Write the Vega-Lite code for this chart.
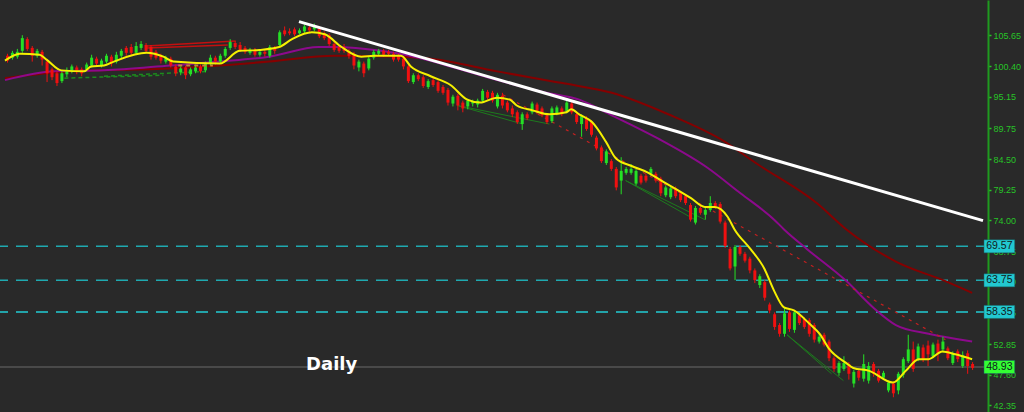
{
"$schema": "https://vega.github.io/schema/vega-lite/v6.json",
"width": 988, "height": 412,
"autosize": {"type": "none"},
"padding": {"left": 0, "top": 0, "right": 36, "bottom": 0},
"background": "#292929",
"config": {"view": {"stroke": null}},
"resolve": {"axis": {"y": "independent"}},
"datasets": {
"candles": [
{"t":0,"o":102.16,"c":101.33,"h":102.50,"l":100.99},
{"t":1,"o":101.83,"c":102.66,"h":103.00,"l":101.50},
{"t":2,"o":102.00,"c":102.83,"h":103.33,"l":101.66},
{"t":3,"o":103.00,"c":105.17,"h":105.67,"l":102.66},
{"t":4,"o":105.00,"c":103.33,"h":105.33,"l":103.00},
{"t":5,"o":103.50,"c":102.16,"h":103.83,"l":101.16},
{"t":6,"o":102.16,"c":103.00,"h":103.33,"l":101.83},
{"t":7,"o":102.83,"c":101.50,"h":103.16,"l":100.49},
{"t":8,"o":101.16,"c":99.16,"h":101.50,"l":97.66},
{"t":9,"o":99.83,"c":98.49,"h":100.16,"l":97.99},
{"t":10,"o":99.16,"c":97.49,"h":99.49,"l":96.99},
{"t":11,"o":97.82,"c":99.16,"h":99.49,"l":97.49},
{"t":12,"o":98.99,"c":99.66,"h":100.16,"l":98.49},
{"t":13,"o":99.49,"c":100.33,"h":100.66,"l":99.16},
{"t":14,"o":100.16,"c":99.49,"h":100.49,"l":98.99},
{"t":15,"o":99.83,"c":99.16,"h":100.16,"l":98.66},
{"t":16,"o":99.83,"c":100.66,"h":100.99,"l":99.49},
{"t":17,"o":100.49,"c":101.83,"h":102.33,"l":100.16},
{"t":18,"o":101.66,"c":100.83,"h":102.00,"l":100.33},
{"t":19,"o":100.49,"c":101.33,"h":101.66,"l":100.16},
{"t":20,"o":101.16,"c":102.16,"h":102.50,"l":100.83},
{"t":21,"o":102.00,"c":100.83,"h":102.33,"l":100.33},
{"t":22,"o":101.16,"c":102.33,"h":102.83,"l":100.83},
{"t":23,"o":102.16,"c":103.00,"h":103.33,"l":101.66},
{"t":24,"o":103.50,"c":102.66,"h":103.83,"l":102.16},
{"t":25,"o":103.66,"c":102.66,"h":104.17,"l":102.16},
{"t":26,"o":102.66,"c":103.83,"h":104.50,"l":102.33},
{"t":27,"o":103.50,"c":104.17,"h":104.67,"l":103.16},
{"t":28,"o":104.00,"c":103.00,"h":104.33,"l":102.66},
{"t":29,"o":103.66,"c":102.00,"h":104.00,"l":101.50},
{"t":30,"o":102.83,"c":101.83,"h":103.16,"l":101.50},
{"t":31,"o":102.16,"c":101.33,"h":102.50,"l":100.83},
{"t":32,"o":101.16,"c":101.83,"h":102.16,"l":100.83},
{"t":33,"o":101.66,"c":100.49,"h":102.00,"l":100.16},
{"t":34,"o":100.33,"c":99.16,"h":100.66,"l":98.66},
{"t":35,"o":99.33,"c":99.99,"h":100.33,"l":98.83},
{"t":36,"o":100.16,"c":98.83,"h":100.49,"l":98.16},
{"t":37,"o":98.99,"c":99.83,"h":100.16,"l":98.66},
{"t":38,"o":99.49,"c":100.16,"h":100.66,"l":99.16},
{"t":39,"o":100.33,"c":99.49,"h":100.66,"l":99.16},
{"t":40,"o":99.66,"c":100.83,"h":101.16,"l":99.33},
{"t":41,"o":100.83,"c":101.83,"h":102.33,"l":100.49},
{"t":42,"o":101.83,"c":101.16,"h":102.16,"l":100.66},
{"t":43,"o":101.16,"c":102.16,"h":102.50,"l":100.83},
{"t":44,"o":102.16,"c":103.33,"h":103.66,"l":101.83},
{"t":45,"o":103.50,"c":104.50,"h":105.00,"l":103.16},
{"t":46,"o":104.33,"c":103.66,"h":104.67,"l":103.33},
{"t":47,"o":104.00,"c":103.16,"h":104.50,"l":102.83},
{"t":48,"o":103.50,"c":102.83,"h":103.83,"l":102.50},
{"t":49,"o":102.66,"c":103.16,"h":103.50,"l":102.33},
{"t":50,"o":103.16,"c":102.33,"h":103.50,"l":102.00},
{"t":51,"o":102.33,"c":102.83,"h":103.16,"l":102.00},
{"t":52,"o":102.83,"c":102.50,"h":103.16,"l":102.00},
{"t":53,"o":102.16,"c":103.66,"h":104.00,"l":101.83},
{"t":54,"o":103.50,"c":103.00,"h":103.83,"l":102.50},
{"t":55,"o":104.00,"c":106.17,"h":106.50,"l":103.66},
{"t":56,"o":106.50,"c":105.83,"h":107.17,"l":105.50},
{"t":57,"o":106.33,"c":106.00,"h":106.84,"l":105.67},
{"t":58,"o":106.67,"c":105.83,"h":107.00,"l":105.50},
{"t":59,"o":106.00,"c":106.50,"h":106.84,"l":105.83},
{"t":60,"o":106.33,"c":107.17,"h":107.50,"l":106.00},
{"t":61,"o":107.00,"c":106.50,"h":107.34,"l":106.17},
{"t":62,"o":106.67,"c":107.17,"h":107.67,"l":106.33},
{"t":63,"o":106.84,"c":105.50,"h":107.17,"l":105.17},
{"t":64,"o":106.00,"c":105.17,"h":106.33,"l":104.83},
{"t":65,"o":105.67,"c":104.17,"h":106.00,"l":103.83},
{"t":66,"o":104.17,"c":103.16,"h":104.50,"l":102.83},
{"t":67,"o":103.66,"c":103.00,"h":104.00,"l":102.66},
{"t":68,"o":103.66,"c":103.00,"h":104.17,"l":102.66},
{"t":69,"o":103.00,"c":102.16,"h":103.33,"l":101.66},
{"t":70,"o":102.50,"c":100.49,"h":102.83,"l":99.83},
{"t":71,"o":100.16,"c":101.16,"h":101.50,"l":99.49},
{"t":72,"o":100.83,"c":99.16,"h":101.16,"l":98.49},
{"t":73,"o":99.99,"c":101.66,"h":102.00,"l":99.66},
{"t":74,"o":101.83,"c":102.83,"h":103.16,"l":101.50},
{"t":75,"o":102.50,"c":103.00,"h":103.33,"l":102.16},
{"t":76,"o":103.00,"c":102.33,"h":103.33,"l":102.00},
{"t":77,"o":102.83,"c":102.50,"h":103.16,"l":102.16},
{"t":78,"o":102.50,"c":101.50,"h":102.83,"l":101.16},
{"t":79,"o":102.16,"c":101.50,"h":102.50,"l":101.16},
{"t":80,"o":101.66,"c":100.33,"h":102.00,"l":99.83},
{"t":81,"o":100.33,"c":97.82,"h":100.66,"l":97.49},
{"t":82,"o":97.66,"c":98.83,"h":99.16,"l":97.32},
{"t":83,"o":98.83,"c":98.16,"h":99.16,"l":97.82},
{"t":84,"o":98.49,"c":96.99,"h":98.83,"l":96.66},
{"t":85,"o":96.82,"c":97.82,"h":98.16,"l":96.49},
{"t":86,"o":97.99,"c":97.16,"h":98.33,"l":96.82},
{"t":87,"o":97.66,"c":96.16,"h":97.99,"l":95.82},
{"t":88,"o":96.82,"c":95.82,"h":97.16,"l":95.49},
{"t":89,"o":96.32,"c":94.15,"h":96.66,"l":93.65},
{"t":90,"o":93.99,"c":95.16,"h":95.49,"l":93.49},
{"t":91,"o":95.32,"c":93.65,"h":95.66,"l":92.82},
{"t":92,"o":94.15,"c":93.15,"h":94.49,"l":92.49},
{"t":93,"o":93.49,"c":94.49,"h":94.82,"l":92.99},
{"t":94,"o":93.99,"c":94.32,"h":94.65,"l":93.49},
{"t":95,"o":93.82,"c":94.49,"h":94.82,"l":93.32},
{"t":96,"o":94.49,"c":96.16,"h":96.49,"l":94.15},
{"t":97,"o":95.99,"c":94.99,"h":96.32,"l":94.65},
{"t":98,"o":95.82,"c":94.49,"h":96.16,"l":94.15},
{"t":99,"o":93.49,"c":95.49,"h":95.82,"l":93.15},
{"t":100,"o":95.32,"c":93.65,"h":95.82,"l":93.15},
{"t":101,"o":94.15,"c":92.82,"h":94.49,"l":92.49},
{"t":102,"o":93.15,"c":92.15,"h":93.65,"l":91.65},
{"t":103,"o":92.49,"c":90.82,"h":92.82,"l":90.48},
{"t":104,"o":90.48,"c":92.15,"h":92.49,"l":89.48},
{"t":105,"o":92.15,"c":91.48,"h":92.49,"l":91.15},
{"t":106,"o":92.49,"c":93.99,"h":94.32,"l":92.15},
{"t":107,"o":93.82,"c":92.49,"h":94.15,"l":92.15},
{"t":108,"o":93.15,"c":91.98,"h":93.49,"l":91.65},
{"t":109,"o":91.98,"c":90.82,"h":92.32,"l":90.48},
{"t":110,"o":90.98,"c":93.15,"h":93.49,"l":90.65},
{"t":111,"o":92.32,"c":93.32,"h":93.65,"l":91.98},
{"t":112,"o":93.15,"c":92.15,"h":93.49,"l":91.82},
{"t":113,"o":92.65,"c":94.15,"h":94.49,"l":92.32},
{"t":114,"o":93.99,"c":92.49,"h":94.32,"l":92.15},
{"t":115,"o":92.15,"c":90.82,"h":92.49,"l":90.48},
{"t":116,"o":90.48,"c":91.82,"h":92.15,"l":88.31},
{"t":117,"o":91.48,"c":89.65,"h":91.82,"l":89.31},
{"t":118,"o":90.82,"c":88.65,"h":91.15,"l":88.31},
{"t":119,"o":88.15,"c":86.31,"h":88.48,"l":85.98},
{"t":120,"o":86.48,"c":84.14,"h":86.81,"l":83.81},
{"t":121,"o":83.81,"c":85.81,"h":86.14,"l":83.48},
{"t":122,"o":84.14,"c":82.81,"h":84.48,"l":82.47},
{"t":123,"o":82.81,"c":79.64,"h":83.14,"l":79.14},
{"t":124,"o":80.81,"c":82.47,"h":84.81,"l":78.47},
{"t":125,"o":82.14,"c":82.81,"h":83.14,"l":81.81},
{"t":126,"o":82.14,"c":82.81,"h":83.64,"l":81.81},
{"t":127,"o":80.30,"c":82.47,"h":82.81,"l":79.97},
{"t":128,"o":81.64,"c":80.47,"h":81.97,"l":80.14},
{"t":129,"o":81.64,"c":80.81,"h":81.97,"l":80.47},
{"t":130,"o":81.97,"c":82.81,"h":83.14,"l":81.64},
{"t":131,"o":81.97,"c":80.81,"h":82.31,"l":80.47},
{"t":132,"o":81.14,"c":78.64,"h":81.47,"l":78.14},
{"t":133,"o":78.30,"c":79.64,"h":79.97,"l":77.97},
{"t":134,"o":77.97,"c":79.47,"h":79.80,"l":77.63},
{"t":135,"o":79.47,"c":78.14,"h":79.80,"l":77.80},
{"t":136,"o":78.64,"c":77.47,"h":78.97,"l":77.13},
{"t":137,"o":78.14,"c":76.97,"h":78.47,"l":76.63},
{"t":138,"o":76.63,"c":74.13,"h":76.97,"l":73.80},
{"t":139,"o":73.63,"c":76.13,"h":76.47,"l":73.30},
{"t":140,"o":76.13,"c":75.30,"h":76.47,"l":74.97},
{"t":141,"o":74.97,"c":75.80,"h":76.13,"l":74.13},
{"t":142,"o":75.80,"c":76.97,"h":78.14,"l":75.47},
{"t":143,"o":76.97,"c":76.30,"h":77.30,"l":75.97},
{"t":144,"o":76.80,"c":73.80,"h":77.13,"l":73.46},
{"t":145,"o":73.63,"c":69.63,"h":73.96,"l":69.29},
{"t":146,"o":69.12,"c":65.79,"h":69.46,"l":65.45},
{"t":147,"o":66.12,"c":69.46,"h":69.79,"l":63.79},
{"t":148,"o":69.46,"c":68.29,"h":69.79,"l":67.96},
{"t":149,"o":68.29,"c":67.12,"h":68.62,"l":66.79},
{"t":150,"o":67.46,"c":65.45,"h":67.79,"l":64.95},
{"t":151,"o":65.45,"c":63.79,"h":65.79,"l":63.28},
{"t":152,"o":62.95,"c":64.45,"h":64.79,"l":62.45},
{"t":153,"o":63.45,"c":60.78,"h":63.79,"l":60.28},
{"t":154,"o":59.62,"c":58.61,"h":59.95,"l":58.11},
{"t":155,"o":57.95,"c":55.78,"h":58.28,"l":55.28},
{"t":156,"o":56.11,"c":54.61,"h":56.44,"l":54.11},
{"t":157,"o":54.61,"c":58.11,"h":59.11,"l":54.11},
{"t":158,"o":58.28,"c":55.44,"h":58.61,"l":54.94},
{"t":159,"o":55.28,"c":58.28,"h":58.61,"l":54.78},
{"t":160,"o":57.78,"c":56.44,"h":58.11,"l":56.11},
{"t":161,"o":57.11,"c":55.78,"h":57.44,"l":55.44},
{"t":162,"o":56.94,"c":54.61,"h":57.28,"l":54.11},
{"t":163,"o":56.11,"c":53.61,"h":56.44,"l":53.11},
{"t":164,"o":53.28,"c":54.11,"h":54.61,"l":52.94},
{"t":165,"o":54.44,"c":52.77,"h":54.78,"l":52.44},
{"t":166,"o":53.28,"c":50.43,"h":53.61,"l":49.93},
{"t":167,"o":50.43,"c":48.60,"h":50.77,"l":48.10},
{"t":168,"o":47.93,"c":49.60,"h":49.93,"l":47.43},
{"t":169,"o":48.60,"c":49.60,"h":50.77,"l":48.27},
{"t":170,"o":49.44,"c":47.77,"h":49.77,"l":46.77},
{"t":171,"o":46.10,"c":48.10,"h":48.43,"l":45.43},
{"t":172,"o":48.27,"c":47.10,"h":48.60,"l":46.60},
{"t":173,"o":46.93,"c":49.44,"h":51.10,"l":46.43},
{"t":174,"o":46.60,"c":49.10,"h":49.77,"l":46.10},
{"t":175,"o":49.44,"c":47.77,"h":49.77,"l":47.27},
{"t":176,"o":48.27,"c":46.60,"h":48.60,"l":46.27},
{"t":177,"o":47.10,"c":47.93,"h":48.27,"l":46.77},
{"t":178,"o":44.93,"c":46.27,"h":46.60,"l":44.60},
{"t":179,"o":46.10,"c":44.43,"h":46.43,"l":43.76},
{"t":180,"o":44.93,"c":47.77,"h":48.10,"l":44.26},
{"t":181,"o":47.60,"c":50.27,"h":50.60,"l":47.10},
{"t":182,"o":49.93,"c":51.94,"h":54.44,"l":49.60},
{"t":183,"o":51.94,"c":48.60,"h":53.28,"l":48.10},
{"t":184,"o":50.27,"c":52.44,"h":52.94,"l":49.93},
{"t":185,"o":52.27,"c":50.27,"h":52.77,"l":49.77},
{"t":186,"o":52.61,"c":51.10,"h":53.44,"l":49.10},
{"t":187,"o":50.77,"c":52.77,"h":53.11,"l":50.43},
{"t":188,"o":52.94,"c":51.27,"h":53.61,"l":49.93},
{"t":189,"o":51.94,"c":53.28,"h":54.11,"l":51.44},
{"t":190,"o":52.11,"c":50.43,"h":52.44,"l":50.10},
{"t":191,"o":49.60,"c":51.27,"h":51.60,"l":49.27},
{"t":192,"o":51.60,"c":50.27,"h":51.94,"l":49.77},
{"t":193,"o":49.10,"c":50.94,"h":51.60,"l":48.77},
{"t":194,"o":51.27,"c":49.10,"h":51.77,"l":47.77},
{"t":195,"o":49.44,"c":48.77,"h":49.77,"l":48.43}
],
"ma": [
{"s":"fast","t":-0.5,"p":101.33},{"s":"fast","t":2.5,"p":102.50},{"s":"fast","t":6.5,"p":102.33},{"s":"fast","t":7.9,"p":101.50},{"s":"fast","t":10.9,"p":99.66},{"s":"fast","t":15.5,"p":99.49},{"s":"fast","t":16.9,"p":100.33},{"s":"fast","t":19.5,"p":100.49},{"s":"fast","t":21.5,"p":101.16},{"s":"fast","t":28.1,"p":102.66},{"s":"fast","t":31.5,"p":102.00},{"s":"fast","t":33.5,"p":101.16},{"s":"fast","t":42.9,"p":100.83},{"s":"fast","t":46.9,"p":103.00},{"s":"fast","t":50.9,"p":103.16},{"s":"fast","t":54.9,"p":103.66},{"s":"fast","t":57.5,"p":105.00},{"s":"fast","t":61.5,"p":106.17},{"s":"fast","t":64.1,"p":105.83},{"s":"fast","t":67.5,"p":103.66},{"s":"fast","t":71.5,"p":102.00},{"s":"fast","t":74.1,"p":102.16},{"s":"fast","t":79.5,"p":102.16},{"s":"fast","t":81.5,"p":100.33},{"s":"fast","t":85.5,"p":98.66},{"s":"fast","t":89.5,"p":97.16},{"s":"fast","t":92.9,"p":94.65},{"s":"fast","t":95.5,"p":94.15},{"s":"fast","t":98.9,"p":94.99},{"s":"fast","t":101.5,"p":94.65},{"s":"fast","t":102.9,"p":93.65},{"s":"fast","t":106.1,"p":92.82},{"s":"fast","t":109.5,"p":92.15},{"s":"fast","t":112.9,"p":92.49},{"s":"fast","t":113.9,"p":92.99},{"s":"fast","t":115.5,"p":92.15},{"s":"fast","t":118.1,"p":90.82},{"s":"fast","t":120.9,"p":87.48},{"s":"fast","t":122.9,"p":84.64},{"s":"fast","t":126.1,"p":83.31},{"s":"fast","t":129.5,"p":82.14},{"s":"fast","t":132.1,"p":80.81},{"s":"fast","t":135.5,"p":79.14},{"s":"fast","t":138.1,"p":77.80},{"s":"fast","t":140.9,"p":76.30},{"s":"fast","t":142.9,"p":76.30},{"s":"fast","t":145.5,"p":74.63},{"s":"fast","t":146.9,"p":72.46},{"s":"fast","t":150.1,"p":69.12},{"s":"fast","t":152.9,"p":65.79},{"s":"fast","t":154.9,"p":61.95},{"s":"fast","t":156.9,"p":59.11},{"s":"fast","t":158.9,"p":58.61},{"s":"fast","t":162.1,"p":56.28},{"s":"fast","t":164.1,"p":54.61},{"s":"fast","t":166.1,"p":51.94},{"s":"fast","t":169.5,"p":49.60},{"s":"fast","t":170.9,"p":48.77},{"s":"fast","t":174.1,"p":48.27},{"s":"fast","t":178.9,"p":46.27},{"s":"fast","t":181.5,"p":48.27},{"s":"fast","t":184.1,"p":50.27},{"s":"fast","t":186.1,"p":50.27},{"s":"fast","t":188.9,"p":51.60},{"s":"fast","t":191.5,"p":51.10},{"s":"fast","t":194.9,"p":50.27},
{"s":"mid","t":-0.5,"p":97.99},{"s":"mid","t":9.5,"p":99.49},{"s":"mid","t":19.5,"p":99.66},{"s":"mid","t":32.9,"p":100.49},{"s":"mid","t":42.9,"p":101.16},{"s":"mid","t":52.9,"p":102.00},{"s":"mid","t":62.9,"p":103.66},{"s":"mid","t":66.1,"p":103.66},{"s":"mid","t":75.5,"p":103.00},{"s":"mid","t":82.1,"p":102.00},{"s":"mid","t":95.5,"p":98.83},{"s":"mid","t":108.9,"p":95.82},{"s":"mid","t":115.5,"p":94.65},{"s":"mid","t":122.1,"p":91.98},{"s":"mid","t":124.9,"p":90.82},{"s":"mid","t":131.5,"p":87.98},{"s":"mid","t":141.5,"p":82.97},{"s":"mid","t":148.1,"p":78.64},{"s":"mid","t":154.9,"p":74.13},{"s":"mid","t":156.9,"p":72.46},{"s":"mid","t":161.5,"p":69.12},{"s":"mid","t":169.5,"p":63.62},{"s":"mid","t":174.9,"p":59.11},{"s":"mid","t":179.5,"p":56.11},{"s":"mid","t":186.1,"p":54.61},{"s":"mid","t":194.9,"p":53.28},
{"s":"slow","t":-0.5,"p":98.33},{"s":"slow","t":12.9,"p":99.49},{"s":"slow","t":32.9,"p":99.99},{"s":"slow","t":52.9,"p":101.16},{"s":"slow","t":66.1,"p":102.16},{"s":"slow","t":78.9,"p":102.00},{"s":"slow","t":85.5,"p":101.66},{"s":"slow","t":98.9,"p":99.49},{"s":"slow","t":112.1,"p":97.49},{"s":"slow","t":122.1,"p":95.82},{"s":"slow","t":133.5,"p":92.15},{"s":"slow","t":144.9,"p":87.48},{"s":"slow","t":151.5,"p":83.64},{"s":"slow","t":163.5,"p":76.97},{"s":"slow","t":169.5,"p":72.46},{"s":"slow","t":179.5,"p":66.96},{"s":"slow","t":189.5,"p":63.62},{"s":"slow","t":194.9,"p":61.62}
],
"segments": [
{"k":"trend","t":58.9,"p":108.00,"t2":197.1,"p2":73.96},
{"k":"reddash","t":100.1,"p":95.49,"t2":189.5,"p2":53.61},
{"k":"redline","t":28.1,"p":103.83,"t2":46.1,"p2":104.67},
{"k":"redline","t":28.1,"p":103.50,"t2":44.5,"p2":104.00},
{"k":"greendash","t":11.5,"p":98.33,"t2":31.5,"p2":98.83},
{"k":"greendash","t":19.5,"p":98.66,"t2":40.5,"p2":99.49},
{"k":"tandash","t":34.5,"p":100.49,"t2":41.5,"p2":100.49},
{"k":"green","t":90.9,"p":93.65,"t2":109.5,"p2":90.48},
{"k":"green","t":90.9,"p":93.65,"t2":104.1,"p2":90.48},
{"k":"green","t":124.9,"p":80.81,"t2":138.9,"p2":74.13},
{"k":"green","t":124.9,"p":80.81,"t2":140.9,"p2":74.13},
{"k":"green","t":157.5,"p":54.44,"t2":168.9,"p2":46.60},
{"k":"green","t":157.5,"p":54.44,"t2":166.5,"p2":47.77}
],
"levels": [
{"level":69.57,"label":"69.57","kind":"a"},
{"level":63.75,"label":"63.75","kind":"a"},
{"level":58.35,"label":"58.35","kind":"b"},
{"level":48.93,"label":"48.93","kind":"c"}
]
},
"layer": [
{
"data": {"name": "levels"},
"transform": [{"filter": "datum.kind != 'c'"}],
"mark": {"type": "rule", "strokeWidth": 1.5, "strokeDash": [12, 8]},
"encoding": {
"y": {"field": "level", "type": "quantitative", "scale": {"domain": [42.09, 110.84], "nice": false, "zero": false},
"axis": {"orient": "right", "title": null, "grid": false, "values": [105.65,100.40,95.15,89.75,84.50,79.25,74.00,68.75,63.50,58.25,52.85,47.60,42.35], "format": ".2f", "labelColor": "#27c427", "labelFont": "Liberation Sans", "labelFontSize": 9, "labelPadding": 2, "tickColor": "#27c427", "tickSize": 3, "tickWidth": 1.5, "domainColor": "#1f9a1f", "domainWidth": 2, "labelOverlap": false, "labelFlush": false}},
"color": {"condition": {"test": "datum.kind == 'b'", "value": "#22ccd4"}, "value": "#1fa9b0"}
}
},
{
"data": {"name": "levels"},
"transform": [{"filter": "datum.kind == 'c'"}],
"mark": {"type": "rule", "strokeWidth": 1.5, "color": "#555555"},
"encoding": {
"y": {"field": "level", "type": "quantitative", "scale": {"domain": [42.09, 110.84], "nice": false, "zero": false}, "axis": null}
}
},
{
"data": {"name": "segments"},
"transform": [{"filter": "datum.k == 'green'"}],
"mark": {"type": "rule", "strokeWidth": 1, "color": "#1d7a1d"},
"encoding": {
"x": {"field": "t", "type": "quantitative", "scale": {"domain": [-0.5, 197.1], "nice": false, "zero": false}, "axis": null},
"x2": {"field": "t2"},
"y": {"field": "p", "type": "quantitative", "scale": {"domain": [42.09, 110.84], "nice": false, "zero": false}, "axis": null},
"y2": {"field": "p2"}
}
},
{
"data": {"name": "segments"},
"transform": [{"filter": "datum.k == 'greendash'"}],
"mark": {"type": "rule", "strokeWidth": 1.5, "color": "#1d8a1d", "strokeDash": [4, 3]},
"encoding": {
"x": {"field": "t", "type": "quantitative", "scale": {"domain": [-0.5, 197.1], "nice": false, "zero": false}, "axis": null},
"x2": {"field": "t2"},
"y": {"field": "p", "type": "quantitative", "scale": {"domain": [42.09, 110.84], "nice": false, "zero": false}, "axis": null},
"y2": {"field": "p2"}
}
},
{
"data": {"name": "segments"},
"transform": [{"filter": "datum.k == 'redline'"}],
"mark": {"type": "rule", "strokeWidth": 1.5, "color": "#c41010"},
"encoding": {
"x": {"field": "t", "type": "quantitative", "scale": {"domain": [-0.5, 197.1], "nice": false, "zero": false}, "axis": null},
"x2": {"field": "t2"},
"y": {"field": "p", "type": "quantitative", "scale": {"domain": [42.09, 110.84], "nice": false, "zero": false}, "axis": null},
"y2": {"field": "p2"}
}
},
{
"data": {"name": "ma"},
"transform": [{"filter": "datum.s == 'slow'"}],
"mark": {"type": "line", "strokeWidth": 2, "color": "#850000", "interpolate": "monotone"},
"encoding": {
"x": {"field": "t", "type": "quantitative", "scale": {"domain": [-0.5, 197.1], "nice": false, "zero": false}, "axis": null},
"y": {"field": "p", "type": "quantitative", "scale": {"domain": [42.09, 110.84], "nice": false, "zero": false}, "axis": null}
}
},
{
"data": {"name": "ma"},
"transform": [{"filter": "datum.s == 'mid'"}],
"mark": {"type": "line", "strokeWidth": 2, "color": "#8c0a8c", "interpolate": "monotone"},
"encoding": {
"x": {"field": "t", "type": "quantitative", "scale": {"domain": [-0.5, 197.1], "nice": false, "zero": false}, "axis": null},
"y": {"field": "p", "type": "quantitative", "scale": {"domain": [42.09, 110.84], "nice": false, "zero": false}, "axis": null}
}
},
{
"data": {"name": "segments"},
"transform": [{"filter": "datum.k == 'reddash'"}],
"mark": {"type": "rule", "strokeWidth": 1.2, "color": "#c42020", "strokeDash": [3, 5]},
"encoding": {
"x": {"field": "t", "type": "quantitative", "scale": {"domain": [-0.5, 197.1], "nice": false, "zero": false}, "axis": null},
"x2": {"field": "t2"},
"y": {"field": "p", "type": "quantitative", "scale": {"domain": [42.09, 110.84], "nice": false, "zero": false}, "axis": null},
"y2": {"field": "p2"}
}
},
{
"data": {"name": "candles"},
"mark": {"type": "rule", "strokeWidth": 1},
"encoding": {
"x": {"field": "t", "type": "quantitative", "scale": {"domain": [-0.5, 197.1], "nice": false, "zero": false}, "axis": null},
"y": {"field": "l", "type": "quantitative", "scale": {"domain": [42.09, 110.84], "nice": false, "zero": false}, "axis": null},
"y2": {"field": "h"},
"color": {"condition": {"test": "datum.c >= datum.o", "value": "#25e025"}, "value": "#f01010"}
}
},
{
"data": {"name": "candles"},
"mark": {"type": "bar", "width": 3},
"encoding": {
"x": {"field": "t", "type": "quantitative", "scale": {"domain": [-0.5, 197.1], "nice": false, "zero": false}, "axis": null},
"y": {"field": "o", "type": "quantitative", "scale": {"domain": [42.09, 110.84], "nice": false, "zero": false}, "axis": null},
"y2": {"field": "c"},
"color": {"condition": {"test": "datum.c >= datum.o", "value": "#25e025"}, "value": "#f01010"}
}
},
{
"data": {"name": "segments"},
"transform": [{"filter": "datum.k == 'tandash'"}],
"mark": {"type": "rule", "strokeWidth": 2, "color": "#c8823a", "strokeDash": [4, 4]},
"encoding": {
"x": {"field": "t", "type": "quantitative", "scale": {"domain": [-0.5, 197.1], "nice": false, "zero": false}, "axis": null},
"x2": {"field": "t2"},
"y": {"field": "p", "type": "quantitative", "scale": {"domain": [42.09, 110.84], "nice": false, "zero": false}, "axis": null},
"y2": {"field": "p2"}
}
},
{
"data": {"name": "ma"},
"transform": [{"filter": "datum.s == 'fast'"}],
"mark": {"type": "line", "strokeWidth": 2, "color": "#f5f000", "interpolate": "monotone"},
"encoding": {
"x": {"field": "t", "type": "quantitative", "scale": {"domain": [-0.5, 197.1], "nice": false, "zero": false}, "axis": null},
"y": {"field": "p", "type": "quantitative", "scale": {"domain": [42.09, 110.84], "nice": false, "zero": false}, "axis": null}
}
},
{
"data": {"name": "segments"},
"transform": [{"filter": "datum.k == 'trend'"}],
"mark": {"type": "rule", "strokeWidth": 3, "color": "#ffffff"},
"encoding": {
"x": {"field": "t", "type": "quantitative", "scale": {"domain": [-0.5, 197.1], "nice": false, "zero": false}, "axis": null},
"x2": {"field": "t2"},
"y": {"field": "p", "type": "quantitative", "scale": {"domain": [42.09, 110.84], "nice": false, "zero": false}, "axis": null},
"y2": {"field": "p2"}
}
},
{
"data": {"name": "levels"},
"mark": {"type": "bar", "height": 13, "stroke": "#1a6a6a", "strokeWidth": 0.5},
"encoding": {
"x": {"datum": 197.3, "type": "quantitative", "scale": {"domain": [-0.5, 197.1], "nice": false, "zero": false}, "axis": null},
"x2": {"datum": 203.5},
"y": {"field": "level", "type": "quantitative", "scale": {"domain": [42.09, 110.84], "nice": false, "zero": false}, "axis": null},
"color": {"condition": {"test": "datum.kind == 'c'", "value": "#33ff33"}, "value": "#22c8d0"}
}
},
{
"data": {"name": "levels"},
"mark": {"type": "text", "font": "Liberation Sans", "fontSize": 10.5, "color": "#102020", "align": "center", "baseline": "middle"},
"encoding": {
"x": {"datum": 200.4, "type": "quantitative", "scale": {"domain": [-0.5, 197.1], "nice": false, "zero": false}, "axis": null},
"y": {"field": "level", "type": "quantitative", "scale": {"domain": [42.09, 110.84], "nice": false, "zero": false}, "axis": null},
"text": {"field": "label"}
}
},
{
"data": {"values": [{"label": "Daily"}]},
"mark": {"type": "text", "font": "DejaVu Sans", "fontWeight": "bold", "fontSize": 18, "color": "#ffffff", "align": "center", "baseline": "alphabetic"},
"encoding": {
"x": {"datum": 65.5, "type": "quantitative", "scale": {"domain": [-0.5, 197.1], "nice": false, "zero": false}, "axis": null},
"y": {"datum": 48.43, "type": "quantitative", "scale": {"domain": [42.09, 110.84], "nice": false, "zero": false}, "axis": null},
"text": {"field": "label"}
}
}
]
}
